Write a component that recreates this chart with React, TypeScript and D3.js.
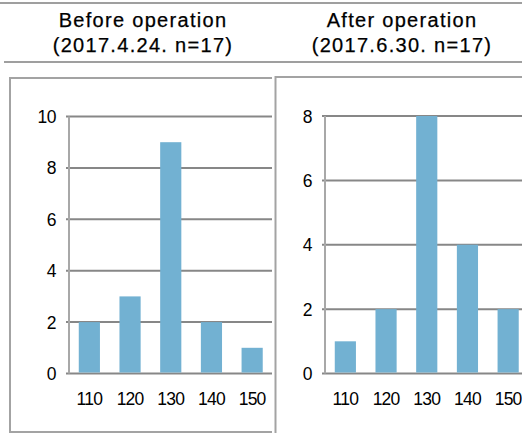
import { useRef, useEffect } from 'react';
import * as d3 from 'd3';

// heights (cm) on the x axis, counts per group
const categories = ['110', '120', '130', '140', '150'];
const beforeCounts = [2, 3, 9, 2, 1];
const afterCounts = [1, 2, 8, 4, 2];
const beforeTicks = [0, 2, 4, 6, 8, 10];
const afterTicks = [0, 2, 4, 6, 8];
const titles = [
  ['Before operation', '(2017.4.24. n=17)'],
  ['After operation', '(2017.6.30. n=17)'],
];

const width = 522;
const height = 433;
const barColor = '#72b1d2';
const gridColor = '#878787';
const font = 'Liberation Sans, Arial, sans-serif';

const App = () => {
  const svgRef = useRef<SVGSVGElement>(null);

  useEffect(() => {
    const svg = d3.select(svgRef.current);
    svg.selectAll('*').remove();

    // header rules
    svg.append('line').attr('x1', 0).attr('x2', width).attr('y1', 3).attr('y2', 3)
      .attr('stroke', '#7f7f7f').attr('stroke-width', 1.5);
    svg.append('line').attr('x1', 4).attr('x2', width).attr('y1', 62).attr('y2', 62)
      .attr('stroke', '#7f7f7f').attr('stroke-width', 1.5);

    // header titles
    const centers = [143, 402];
    titles.forEach((t, i) => {
      t.forEach((line, j) => {
        svg.append('text')
          .attr('x', centers[i])
          .attr('y', 27 + j * 25)
          .attr('text-anchor', 'middle')
          .attr('font-family', font)
          .attr('font-size', 20)
          .attr('letter-spacing', 1.3)
          .attr('stroke', '#000')
          .attr('stroke-width', 0.25)
          .attr('fill', '#000')
          .text(line);
      });
    });

    // panel frames
    svg.append('path')
      .attr('d', 'M272,78 H10 V432 H272')
      .attr('fill', 'none').attr('stroke', '#a3a3a3').attr('stroke-width', 2);
    svg.append('path')
      .attr('d', `M${width},77 H275.5 V${height}`)
      .attr('fill', 'none').attr('stroke', '#a3a3a3').attr('stroke-width', 2);

    const panels = [
      { data: beforeCounts, ticks: beforeTicks, x0: 69, top: 116.5, clip: 272 },
      { data: afterCounts, ticks: afterTicks, x0: 325, top: 116, clip: width },
    ];
    const bottom = 373.5;
    const step = 40.7;

    panels.forEach(p => {
      const g = svg.append('g');
      const right = p.x0 + step * categories.length;
      const xScale = d3.scaleBand()
        .domain(categories)
        .range([p.x0, right])
        .paddingInner(0.48)
        .paddingOuter(0.24);
      const yScale = d3.scaleLinear()
        .domain([0, d3.max(p.ticks)!])
        .range([bottom, p.top]);

      // gridlines (incl. the zero baseline)
      g.selectAll('line.grid')
        .data(p.ticks)
        .enter()
        .append('line')
        .attr('class', 'grid')
        .attr('x1', p.x0 - 3)
        .attr('x2', Math.min(right, p.clip))
        .attr('y1', d => yScale(d))
        .attr('y2', d => yScale(d))
        .attr('stroke', gridColor)
        .attr('stroke-width', 2);

      // y axis line
      g.append('line')
        .attr('x1', p.x0).attr('x2', p.x0)
        .attr('y1', p.top).attr('y2', bottom)
        .attr('stroke', '#a8a8a8').attr('stroke-width', 2);

      // bars
      g.selectAll('rect')
        .data(p.data)
        .enter()
        .append('rect')
        .attr('x', (_d, i) => xScale(categories[i])!)
        .attr('y', d => yScale(d))
        .attr('width', xScale.bandwidth())
        .attr('height', d => bottom - 1 - yScale(d))
        .attr('fill', barColor);

      // y tick labels
      g.selectAll('text.ylab')
        .data(p.ticks)
        .enter()
        .append('text')
        .attr('class', 'ylab')
        .attr('x', p.x0 - 13)
        .attr('y', d => yScale(d) + 6.5)
        .attr('text-anchor', 'end')
        .attr('font-family', font)
        .attr('font-size', 17.5)
        .attr('letter-spacing', -0.5)
        .attr('fill', '#000')
        .text(d => d);

      // x tick labels
      g.selectAll('text.xlab')
        .data(categories)
        .enter()
        .append('text')
        .attr('class', 'xlab')
        .attr('x', d => xScale(d)! + xScale.bandwidth() / 2)
        .attr('y', 405)
        .attr('text-anchor', 'middle')
        .attr('font-family', font)
        .attr('font-size', 17.5)
        .attr('letter-spacing', -0.8)
        .attr('fill', '#000')
        .text(d => d);
    });
  }, []);

  return (
    <div style={{ position: 'absolute', left: 0, top: 0, background: '#fff' }}>
      <svg ref={svgRef} width={width} height={height} style={{ display: 'block' }}></svg>
    </div>
  );
};

export default App;
